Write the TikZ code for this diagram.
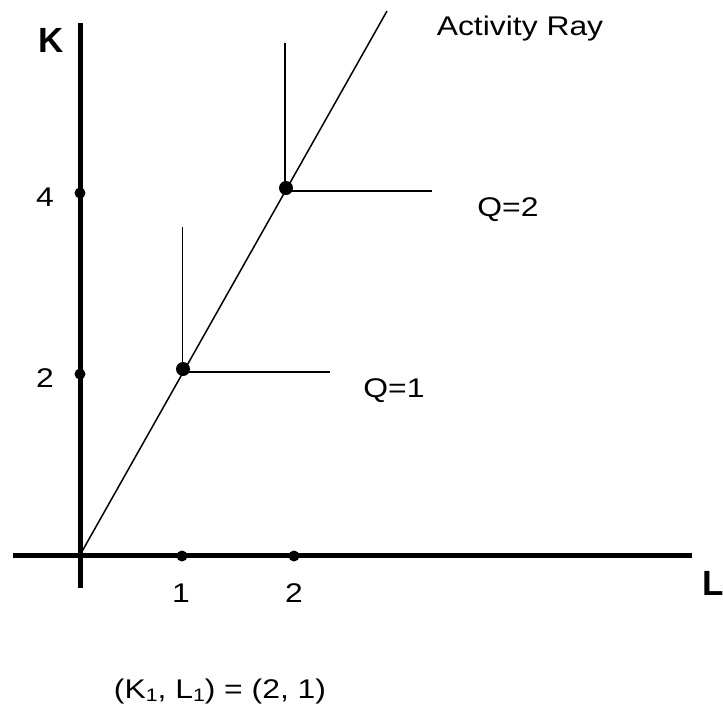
\documentclass[tikz,border=0pt]{standalone}
\usepackage{fontspec}
\setmainfont{Liberation Sans}
\newfontfamily\widefont[FakeStretch=1.18]{Liberation Sans}
\usetikzlibrary{positioning}
\tikzstyle{axis} = [line width=5pt]
\tikzstyle{isoquant} = [line width=1.5pt]
\tikzstyle{tickdot} = [circle, fill=black, inner sep=0pt, minimum size=11pt]
\tikzstyle{kinkdot} = [circle, fill=black, inner sep=0pt, minimum size=14pt]
\tikzstyle{lbl} = [anchor=base, inner sep=0pt, font=\widefont\fontsize{27}{32}\selectfont]
\tikzstyle{axlbl} = [anchor=base, inner sep=0pt, font=\fontsize{35}{42}\selectfont\bfseries]
\newcommand{\lowone}{\raisebox{-3pt}{\fontsize{18}{20}\selectfont 1}}

\begin{document}
\begin{tikzpicture}[x=1pt, y=-1pt]
\useasboundingbox (0,0) rectangle (723,705);

% axes
\coordinate (origin) at (80,555);
\coordinate (ktop) at (80,23);
\coordinate (kbot) at (80,588);
\coordinate (lleft) at (13,555);
\coordinate (lright) at (692,555);
\draw [axis] (kbot) -- (ktop);
\draw [axis] (lleft) -- (lright);

% activity ray
\coordinate (raytop) at (387,11);
\draw [isoquant] (origin) -- (raytop);

% isoquants
\coordinate (c1) at (182.5,372);
\coordinate (c2) at (285,191);
\draw [isoquant] (182.5,227) -- (c1) -- (330,372);
\draw [isoquant] (285,43) -- (c2) -- (432,191);
\node (k1) [kinkdot] at (183,369) {};
\node (k2) [kinkdot] at (286,188) {};

% tick dots
\node (t4) [tickdot] at (80,193) {};
\node (t2) [tickdot] at (80,374) {};
\node (s1) [tickdot] at (182,556) {};
\node (s2) [tickdot] at (294,556) {};

% labels
\node (klabel) [axlbl] at (51,52) {K};
\node (llabel) [axlbl, anchor=base west] at (702,595) {L};
\node (n4) [lbl] at (45,206) {4};
\node (n2) [lbl] at (45,387) {2};
\node (m1) [lbl] at (181,602) {1};
\node (m2) [lbl] at (294,602) {2};
\node (q2) [lbl] at (508,216) {Q=2};
\node (q1) [lbl] at (394,397) {Q=1};
\node (ray) [lbl] at (520,35) {Activity Ray};
\node (eq) [lbl] at (220,698) {(K\lowone, L\lowone) = (2, 1)};

\end{tikzpicture}
\end{document}
